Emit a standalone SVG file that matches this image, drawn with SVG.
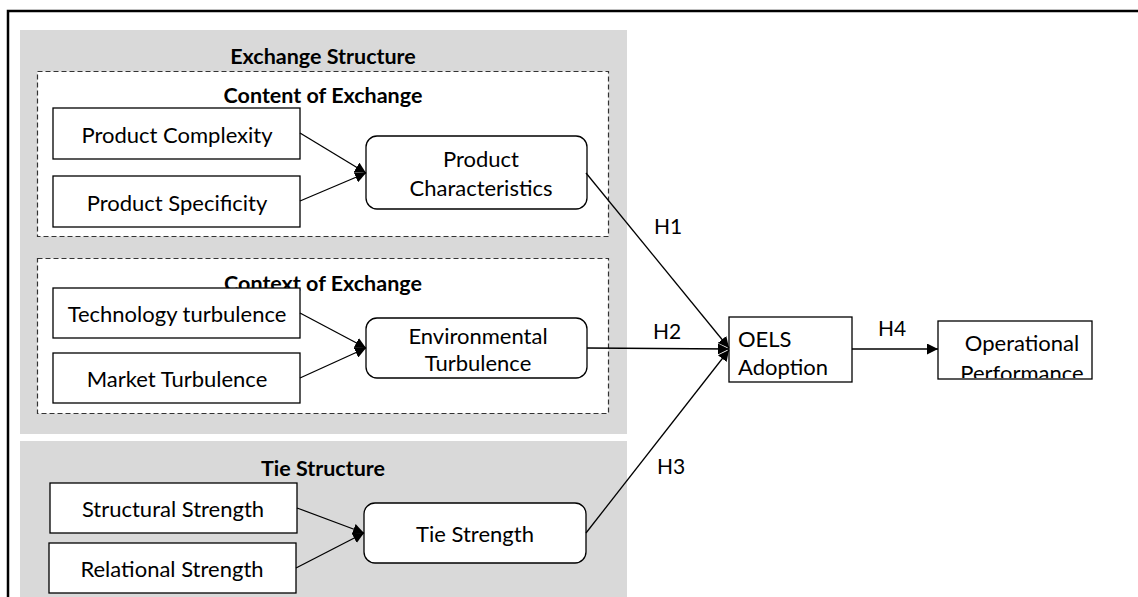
<svg xmlns="http://www.w3.org/2000/svg" width="1138" height="597" viewBox="0 0 1138 597">
<style>
text{font-family:Lato,"Open Sans","Liberation Sans",sans-serif;fill:#000}
.t{font-size:22px;text-anchor:middle}
.h{font-size:21.5px;font-weight:bold;text-anchor:middle}
.lbl{font-size:21px;text-anchor:middle}
.box{fill:#fff;stroke:#000;stroke-width:1.3}
.dash{fill:#fff;stroke:#333;stroke-width:1.2;stroke-dasharray:5,3}
.panel{fill:#d9d9d9}
.con{fill:none;stroke:#000;stroke-width:1.3;marker-end:url(#arr)}
</style>
<defs>
<marker id="arr" viewBox="0 0 10 10" refX="10" refY="5" markerWidth="11" markerHeight="11" markerUnits="userSpaceOnUse" orient="auto">
<path d="M0,0 L10,5 L0,10 z" fill="#000"/>
</marker>
<clipPath id="opclip"><rect x="938" y="321" width="155" height="57"/></clipPath>
</defs>
<rect x="8" y="11" width="1140" height="600" fill="#fff" stroke="#000" stroke-width="2.5"/>
<g id="panel-exchange">
<rect class="panel" x="20" y="30" width="607" height="404"/>
<text class="h" x="323" y="64">Exchange Structure</text>
</g>
<g id="panel-tie">
<rect class="panel" x="20" y="441" width="607" height="160"/>
<text class="h" x="323" y="476">Tie Structure</text>
</g>
<g id="group-content">
<rect class="dash" x="37.5" y="71.5" width="571" height="165"/>
<text class="h" x="323" y="103">Content of Exchange</text>
</g>
<g id="group-context">
<rect class="dash" x="37.5" y="258.5" width="571" height="155"/>
<text class="h" x="323" y="291">Context of Exchange</text>
</g>
<g id="product-complexity"><rect class="box" x="53" y="108" width="247" height="51"/><text class="t" x="177" y="143">Product Complexity</text></g>
<g id="product-specificity"><rect class="box" x="53" y="176" width="247" height="51"/><text class="t" x="177" y="211">Product Specificity</text></g>
<g id="product-characteristics"><rect class="box" x="366" y="136" width="221" height="73" rx="11"/><text class="t" x="481" y="167">Product</text><text class="t" x="481" y="196">Characteristics</text></g>
<g id="technology-turbulence"><rect class="box" x="53" y="288" width="247" height="50"/><text class="t" x="177" y="322">Technology turbulence</text></g>
<g id="market-turbulence"><rect class="box" x="53" y="353" width="247" height="50"/><text class="t" x="177" y="387">Market Turbulence</text></g>
<g id="environmental-turbulence"><rect class="box" x="366" y="318" width="221" height="60" rx="11"/><text class="t" x="478" y="344">Environmental</text><text class="t" x="478" y="371">Turbulence</text></g>
<g id="structural-strength"><rect class="box" x="50" y="483" width="247" height="50"/><text class="t" x="173" y="517">Structural Strength</text></g>
<g id="relational-strength"><rect class="box" x="49" y="543" width="247" height="50"/><text class="t" x="172" y="577">Relational Strength</text></g>
<g id="tie-strength"><rect class="box" x="364" y="503" width="222" height="60" rx="11"/><text class="t" x="475" y="542">Tie Strength</text></g>
<g id="oels-adoption"><rect class="box" x="729" y="317" width="123" height="65"/><text x="738" y="347" style="font-size:22px">OELS</text><text x="738" y="375" style="font-size:22px">Adoption</text></g>
<g id="operational-performance"><rect class="box" x="938" y="321" width="154" height="58"/><g clip-path="url(#opclip)"><text class="t" x="1022" y="351">Operational</text><text class="t" x="1022" y="381">Performance</text></g></g>
<g id="connectors">
<line class="con" x1="300" y1="133" x2="366" y2="173"/>
<line class="con" x1="300" y1="201" x2="366" y2="173"/>
<line class="con" x1="300" y1="313" x2="366" y2="348"/>
<line class="con" x1="300" y1="378" x2="366" y2="348"/>
<line class="con" x1="297" y1="508" x2="364" y2="533"/>
<line class="con" x1="296" y1="568" x2="364" y2="533"/>
<line class="con" x1="586" y1="173" x2="729" y2="348"/>
<line class="con" x1="587" y1="348" x2="729" y2="349"/>
<line class="con" x1="586" y1="533" x2="729" y2="350"/>
<line class="con" x1="852" y1="349" x2="938" y2="349"/>
<text class="lbl" x="668" y="234">H1</text>
<text class="lbl" x="667" y="339">H2</text>
<text class="lbl" x="671" y="474">H3</text>
<text class="lbl" x="892" y="336">H4</text>
</g>
</svg>
